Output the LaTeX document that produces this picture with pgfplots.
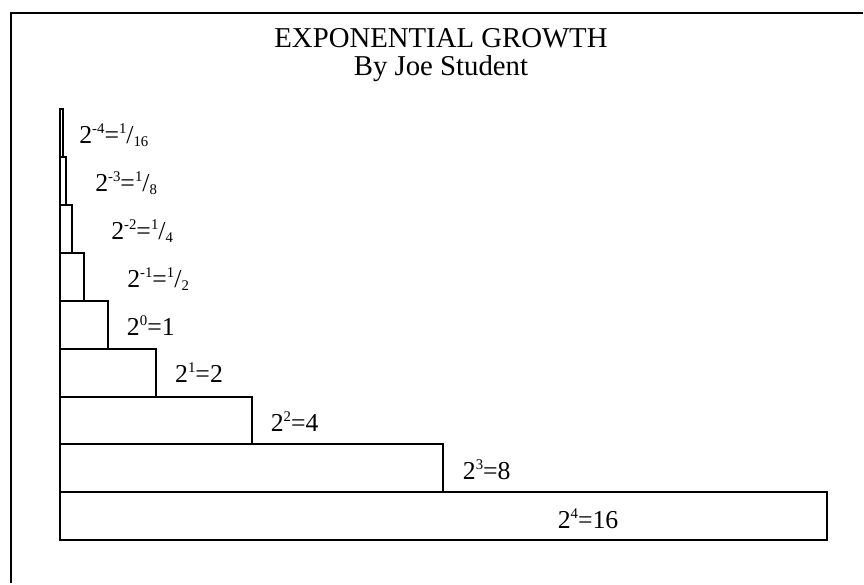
\documentclass[border=0pt]{standalone}
\usepackage{fontspec}
\setmainfont{Liberation Serif}
\usepackage{pgfplots}
\pgfplotsset{compat=1.18}

\newcommand{\lbl}{\fontsize{12.9}{15}\selectfont}
\newcommand{\sps}[1]{\raisebox{5pt}{\fontsize{7.4}{8}\selectfont #1}}
\newcommand{\sbs}[1]{\raisebox{-1.5pt}{\fontsize{7.4}{8}\selectfont #1}}

\begin{document}
\begin{tikzpicture}
\begin{axis}[
  width=432pt, height=292pt, scale only axis,
  xmin=-1.25, xmax=16.75, ymin=-1.3958, ymax=10.7708,
  axis lines=none, ticks=none,
  clip=false,
]
% keep the whole page
\path (rel axis cs:0,0) rectangle (rel axis cs:1,1);
% frame (right and bottom sides fall outside the page)
\draw[line width=1pt] (axis cs:-1.0208,-1.3958) |- (axis cs:16.75,10.5);

\addplot[xbar, bar width=1, bar shift=0pt, fill=white, draw=black, line width=1pt]
  coordinates {
  (16,0) (8,1) (4,2) (2,3) (1,4) (0.5,5) (0.25,6) (0.125,7) (0.0625,8)
};

\node[font=\fontsize{14.4}{17}\selectfont, anchor=base, inner sep=0] at (axis cs:7.948,9.78) {EXPONENTIAL GROWTH};
\node[font=\fontsize{14.4}{17}\selectfont, anchor=base, inner sep=0] at (axis cs:7.948,9.19) {By Joe Student};

\node[font=\lbl, anchor=base west, inner sep=0] at (axis cs:0.396,7.78) {2\sps{-4}=\sps{1}/\sbs{16}};
\node[font=\lbl, anchor=base west, inner sep=0] at (axis cs:0.729,6.777) {2\sps{-3}=\sps{1}/\sbs{8}};
\node[font=\lbl, anchor=base west, inner sep=0] at (axis cs:1.0625,5.77) {2\sps{-2}=\sps{1}/\sbs{4}};
\node[font=\lbl, anchor=base west, inner sep=0] at (axis cs:1.396,4.777) {2\sps{-1}=\sps{1}/\sbs{2}};
\node[font=\lbl, anchor=base west, inner sep=0] at (axis cs:1.39,3.77) {2\sps{0}=1};
\node[font=\lbl, anchor=base west, inner sep=0] at (axis cs:2.396,2.785) {2\sps{1}=2};
\node[font=\lbl, anchor=base west, inner sep=0] at (axis cs:4.39,1.777) {2\sps{2}=4};
\node[font=\lbl, anchor=base west, inner sep=0] at (axis cs:8.396,0.77) {2\sps{3}=8};
\node[font=\lbl, anchor=base west, inner sep=0] at (axis cs:10.375,-0.25) {2\sps{4}=16};
\end{axis}
\end{tikzpicture}
\end{document}
